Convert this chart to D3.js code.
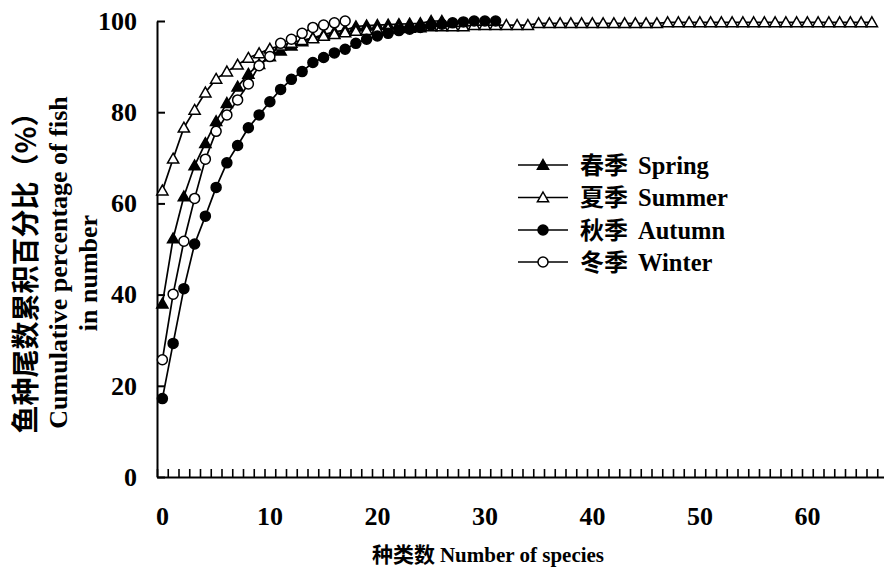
<!DOCTYPE html>
<html><head><meta charset="utf-8">
<script src="https://cdn.jsdelivr.net/npm/d3@7"></script>
<style>
html,body{margin:0;padding:0;background:#fff;}
svg{display:block;}
</style></head>
<body>
<script>
// ---- data ----
const seriesNames = ["春季 Spring", "夏季 Summer", "秋季 Autumn", "冬季 Winter"];
const spring = [38, 52.3, 61.5, 68.3, 73.2, 78, 82, 85.6, 88.4, 90.5, 92.2, 93.5, 94.6, 95.5, 96.3, 97.0, 97.6, 98.0, 98.8, 99.0, 99.1, 99.2, 99.3, 99.4, 99.5, 100, 100];
const summer = [62.8, 69.8, 76.6, 80.5, 84.3, 87.3, 88.9, 90.4, 91.9, 92.9, 93.9, 94.6, 95.2, 95.8, 96.2, 96.7, 97.1, 97.5, 97.8, 98.0, 98.2, 98.3, 98.4, 98.5, 98.6,
  98.8, 98.8, 98.8, 98.8, 99.1, 99.1, 99.1, 99.1, 99.1, 99.1,
  99.5, 99.5, 99.5, 99.5, 99.5, 99.5, 99.5, 99.5, 99.5, 99.5, 99.5, 99.5,
  99.7, 99.7, 99.7, 99.7, 99.7, 99.7, 99.7, 99.7, 99.7, 99.7, 99.7, 99.7, 99.7, 99.7, 99.7, 99.7, 99.7, 99.7, 99.7, 99.7];
const autumn = [17.2, 29.3, 41.3, 51.1, 57.2, 63.5, 68.9, 72.7, 76.6, 79.4, 82.3, 85, 87.2, 88.9, 90.9, 92.0, 93.0, 93.8, 95.1, 96.0, 96.7, 97.3, 97.9, 98.2, 98.6, 99.1, 99.3, 99.6, 99.8, 100, 100, 100];
const winter = [25.7, 40.1, 51.7, 61.1, 69.7, 75.8, 79.4, 82.7, 86.2, 90.2, 92.2, 95.1, 96.0, 97.3, 98.6, 99.1, 99.6, 100];
const categoryCount = 68;
const xTickLabels = [0, 10, 20, 30, 40, 50, 60];
const yTickLabels = [0, 20, 40, 60, 80, 100];

// ---- layout ----
const W = 884, H = 575;
const mLeft = 157, mTop = 21, mBottom = 477;
const bw = 10.75;
const CJK = "'Noto Sans CJK SC','Noto Sans',sans-serif";
const SERIF = "'Liberation Serif','Times New Roman',serif";

const svg = d3.select("body").append("svg").attr("width", W).attr("height", H);

const cats = d3.range(categoryCount);
const x = d3.scaleBand().domain(cats).range([mLeft, mLeft + categoryCount * bw]).paddingInner(0).paddingOuter(0);
const xEdge = d3.scaleLinear().domain([0, categoryCount]).range([mLeft, mLeft + categoryCount * bw]);
const y = d3.scaleLinear().domain([0, 100]).range([mBottom, mTop]);
const cx = i => x(i) + x.bandwidth() / 2;

// y axis
const yAxis = svg.append("g").attr("transform", `translate(${mLeft},0)`)
  .call(d3.axisLeft(y).tickValues(yTickLabels).tickSizeInner(-8).tickSizeOuter(0).tickPadding(20));
yAxis.select(".domain").attr("stroke", "#000").attr("stroke-width", 2);
yAxis.selectAll(".tick line").attr("stroke", "#000").attr("stroke-width", 2);
yAxis.selectAll("text").attr("font-family", SERIF).attr("font-weight", "bold").attr("font-size", 26).attr("fill", "#000");

// x minor ticks at category boundaries
const xMinor = svg.append("g").attr("transform", `translate(0,${mBottom})`)
  .call(d3.axisBottom(xEdge).tickValues(d3.range(0, categoryCount + 1)).tickSizeInner(-8).tickSizeOuter(0).tickFormat(""));
xMinor.select(".domain").attr("stroke", "#000").attr("stroke-width", 2);
xMinor.selectAll(".tick line").attr("stroke", "#000").attr("stroke-width", 1.6);

// x labels at category centers
const xLab = svg.append("g").attr("transform", `translate(0,${mBottom})`)
  .call(d3.axisBottom(x).tickValues(xTickLabels).tickSize(0).tickPadding(30));
xLab.select(".domain").remove();
xLab.selectAll("text").attr("font-family", SERIF).attr("font-weight", "bold").attr("font-size", 26).attr("fill", "#000");

// series
const series = [
  {data: spring, shape: "tri", fill: "#000"},
  {data: summer, shape: "tri", fill: "#fff"},
  {data: autumn, shape: "circ", fill: "#000"},
  {data: winter, shape: "circ", fill: "#fff"}
];
const line = d3.line().x((d, i) => cx(i)).y(d => y(d));
const triPath = "M0,-5.5L5.6,4.3L-5.6,4.3Z";

function drawMarker(g, shape, fill) {
  if (shape === "tri") {
    g.append("path").attr("d", triPath).attr("fill", fill).attr("stroke", "#000").attr("stroke-width", 1.5);
  } else {
    g.append("circle").attr("r", 5).attr("fill", fill).attr("stroke", "#000").attr("stroke-width", 1.5);
  }
}

series.forEach(s => {
  const g = svg.append("g");
  g.append("path").datum(s.data).attr("d", line).attr("fill", "none").attr("stroke", "#000").attr("stroke-width", 1.7);
  g.selectAll("g.m").data(s.data).enter().append("g")
    .attr("transform", (d, i) => `translate(${cx(i)},${y(d)})`)
    .each(function () { drawMarker(d3.select(this), s.shape, s.fill); });
});

// legend
const legY = [165, 197.5, 230, 262];
series.forEach((s, k) => {
  const g = svg.append("g").attr("transform", `translate(0,${legY[k]})`);
  g.append("line").attr("x1", 518).attr("x2", 568).attr("y1", 0).attr("y2", 0).attr("stroke", "#000").attr("stroke-width", 1.7);
  const m = g.append("g").attr("transform", "translate(543,0)");
  drawMarker(m, s.shape, s.fill);
  const parts = seriesNames[k].split(" ");
  const t = g.append("text").attr("x", 580).attr("y", 8.5).attr("fill", "#000").attr("font-weight", "bold");
  t.append("tspan").attr("font-family", CJK).attr("font-size", 24).text(parts[0]);
  t.append("tspan").attr("font-family", SERIF).attr("font-size", 24.5).attr("dx", 10).text(parts[1]);
});

// x axis title
const xt = svg.append("text").attr("x", 488).attr("y", 562).attr("text-anchor", "middle").attr("fill", "#000").attr("font-weight", "bold");
xt.append("tspan").attr("font-family", CJK).attr("font-size", 21).text("种类数");
xt.append("tspan").attr("font-family", SERIF).attr("font-size", 21).attr("dx", 5).text("Number of species");

// y axis title (rotated)
svg.append("text").attr("transform", "translate(24,266) rotate(-90)").attr("text-anchor", "middle").attr("dominant-baseline", "central")
  .attr("font-family", CJK).attr("font-weight", "bold").attr("font-size", 28).attr("fill", "#000").text("鱼种尾数累积百分比（%）");
svg.append("text").attr("transform", "translate(67,262.5) rotate(-90)").attr("text-anchor", "middle")
  .attr("font-family", SERIF).attr("font-weight", "bold").attr("font-size", 26).attr("fill", "#000").text("Cumulative percentage of fish");
svg.append("text").attr("transform", "translate(97,273) rotate(-90)").attr("text-anchor", "middle")
  .attr("font-family", SERIF).attr("font-weight", "bold").attr("font-size", 26).attr("fill", "#000").text("in number");
</script>
</body></html>
